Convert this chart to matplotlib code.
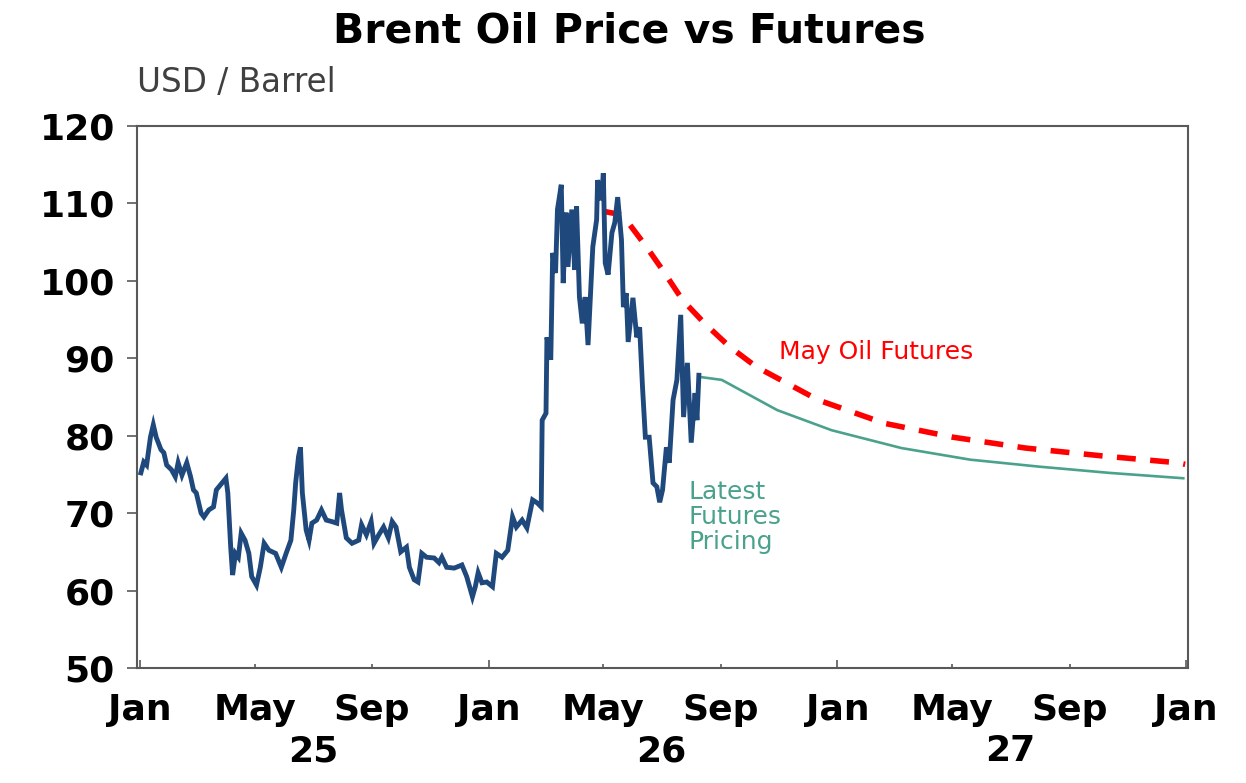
import matplotlib
matplotlib.use('Agg')
import matplotlib.pyplot as plt
import matplotlib.dates as mdates
import pandas as pd

# ---------------- data ----------------
brent_dates = [
    '2025-01-02', '2025-01-05', '2025-01-08', '2025-01-12', '2025-01-15', '2025-01-18', '2025-01-23',
    '2025-01-26', '2025-01-29', '2025-02-03', '2025-02-07', '2025-02-10', '2025-02-14', '2025-02-19',
    '2025-02-23', '2025-02-26', '2025-03-01', '2025-03-06', '2025-03-09', '2025-03-14', '2025-03-19',
    '2025-03-22', '2025-03-26', '2025-04-01', '2025-04-03', '2025-04-06', '2025-04-08', '2025-04-11',
    '2025-04-14', '2025-04-17', '2025-04-21', '2025-04-25', '2025-04-28', '2025-05-03', '2025-05-07',
    '2025-05-11', '2025-05-16', '2025-05-23', '2025-05-29', '2025-06-03', '2025-06-08', '2025-06-11',
    '2025-06-13', '2025-06-16', '2025-06-18', '2025-06-20', '2025-06-24', '2025-06-27', '2025-06-30',
    '2025-07-05', '2025-07-10', '2025-07-15', '2025-07-21', '2025-07-26', '2025-07-29', '2025-07-31',
    '2025-08-05', '2025-08-11', '2025-08-18', '2025-08-21', '2025-08-26', '2025-08-31', '2025-09-03',
    '2025-09-08', '2025-09-13', '2025-09-18', '2025-09-22', '2025-09-26', '2025-10-01', '2025-10-07',
    '2025-10-10', '2025-10-15', '2025-10-19', '2025-10-23', '2025-10-28', '2025-11-05', '2025-11-10',
    '2025-11-13', '2025-11-18', '2025-11-26', '2025-12-04', '2025-12-09', '2025-12-15', '2025-12-18',
    '2025-12-21', '2025-12-25', '2025-12-30',
    '2026-01-05', '2026-01-09', '2026-01-15', '2026-01-21', '2026-01-26', '2026-01-30', '2026-02-05',
    '2026-02-10', '2026-02-16', '2026-02-21', '2026-02-25', '2026-02-26', '2026-03-02', '2026-03-03',
    '2026-03-07', '2026-03-09', '2026-03-12', '2026-03-14', '2026-03-18', '2026-03-20', '2026-03-23',
    '2026-03-25', '2026-03-29', '2026-04-01', '2026-04-03', '2026-04-06', '2026-04-09', '2026-04-12',
    '2026-04-15', '2026-04-20', '2026-04-24', '2026-04-25', '2026-04-29', '2026-05-01', '2026-05-03',
    '2026-05-06', '2026-05-10', '2026-05-13', '2026-05-16', '2026-05-20', '2026-05-22', '2026-05-25',
    '2026-05-27', '2026-06-01', '2026-06-05', '2026-06-08', '2026-06-11', '2026-06-14', '2026-06-18',
    '2026-06-22', '2026-06-26', '2026-06-29', '2026-07-02', '2026-07-06', '2026-07-09', '2026-07-13',
    '2026-07-17', '2026-07-21', '2026-07-24', '2026-07-28', '2026-08-01', '2026-08-05', '2026-08-07',
    '2026-08-09',
]
brent_values = [
    75.2, 76.6, 76.2, 79.8, 81.4, 79.8, 78.2,
    77.8, 76.2, 75.6, 74.7, 76.5, 74.9, 76.5,
    74.7, 73.0, 72.6, 70.0, 69.5, 70.4, 70.8,
    73.0, 73.6, 74.5, 72.6, 65.6, 62.0, 64.8,
    64.3, 67.4, 66.5, 64.8, 61.8, 60.7, 63.0,
    66.1, 65.2, 64.8, 63.0, 64.8, 66.5, 70.4,
    73.9, 77.3, 78.5, 72.6, 67.8, 66.5, 68.7,
    69.1, 70.4, 69.1, 68.9, 68.7, 72.6, 70.4,
    66.8, 66.1, 66.5, 68.5, 67.2, 68.9, 66.1,
    67.2, 68.2, 66.8, 68.9, 68.2, 65.0, 65.6,
    63.0, 61.4, 61.1, 64.8, 64.3, 64.2, 63.6,
    64.3, 63.0, 62.9, 63.3, 61.8, 59.2, 60.5,
    62.3, 61.0, 61.1,
    60.5, 64.8, 64.3, 65.2, 69.5, 68.2, 69.1,
    68.1, 71.7, 71.3, 70.8, 82.0, 82.9, 92.7,
    89.8, 103.6, 101.0, 109.2, 112.4, 99.7, 108.8,
    101.8, 109.2, 101.4, 109.6, 97.9, 94.5, 97.9,
    91.7, 104.4, 107.9, 113.0, 110.4, 113.9, 102.3,
    100.8, 106.2, 107.5, 110.8, 105.3, 96.6, 98.4,
    92.1, 97.8, 92.7, 94.0, 86.3, 79.8, 79.8,
    73.9, 73.4, 71.4, 73.0, 78.5, 76.5, 84.6,
    87.2, 95.6, 82.4, 89.4, 79.1, 85.5, 82.0,
    87.8,
]

latest_dates = ['2026-08-09', '2026-09-02', '2026-10-30', '2026-12-26', '2027-03-09',
                '2027-05-20', '2027-07-31', '2027-10-12', '2027-12-29']
latest_values = [87.6, 87.2, 83.3, 80.7, 78.4, 76.9, 76.0, 75.2, 74.5]

may_dates = ['2026-04-30', '2026-05-21', '2026-06-15', '2026-07-02', '2026-07-23',
             '2026-08-15', '2026-09-10', '2026-10-08', '2026-12-12', '2027-02-19',
             '2027-05-02', '2027-07-17', '2027-10-04', '2027-12-23', '2027-12-31']
may_values = [109.0, 108.5, 104.4, 101.4, 97.5,
              94.5, 91.5, 88.9, 84.6, 81.6,
              79.8, 78.4, 77.4, 76.5, 76.3]

year_labels = ['25', '26', '27']
year_label_dates = ['2025-07-01', '2026-07-01', '2027-07-01']

title = 'Brent Oil Price vs Futures'
unit_label = 'USD / Barrel'
may_label = 'May Oil Futures'
latest_label = 'Latest\nFutures\nPricing'

# ---------------- styles ----------------
BLUE = '#1F497D'
RED = '#FF0000'
TEAL = '#4BA28C'
SPINE = '#595959'

plt.rcParams['font.family'] = ['DejaVu Sans']

fig = plt.figure(figsize=(12.46, 7.83), dpi=100)
ax = fig.add_axes([0.1100, 0.1469, 0.8435, 0.6923])

ax.plot(pd.to_datetime(may_dates), may_values, color=RED, lw=4.0,
        dashes=(3.4, 2.6), dash_capstyle='butt', zorder=2)
ax.plot(pd.to_datetime(latest_dates), latest_values, color=TEAL, lw=1.9, zorder=3)
ax.plot(pd.to_datetime(brent_dates), brent_values, color=BLUE, lw=3.5, zorder=4,
        solid_joinstyle='miter')

ax.set_xlim(pd.Timestamp('2024-12-29'), pd.Timestamp('2028-01-03'))
ax.set_ylim(50, 120)
ax.set_yticks(range(50, 121, 10))

ax.xaxis.set_major_locator(mdates.MonthLocator(bymonth=[1]))
ax.xaxis.set_minor_locator(mdates.MonthLocator(bymonth=[5, 9]))
ax.xaxis.set_major_formatter(mdates.DateFormatter('%b'))
ax.xaxis.set_minor_formatter(mdates.DateFormatter('%b'))

ax.tick_params(axis='x', which='major', direction='in', length=6, width=1.2,
               color=SPINE, pad=18, labelsize=26)
ax.tick_params(axis='x', which='minor', direction='in', length=3, width=1.2,
               color=SPINE, pad=18, labelsize=26)
ax.tick_params(axis='y', which='major', direction='out', length=7, width=1.2,
               color=SPINE, pad=9, labelsize=26)
for lab in ax.get_xticklabels(which='both') + ax.get_yticklabels():
    lab.set_fontweight('bold')

for sp in ax.spines.values():
    sp.set_color(SPINE)
    sp.set_linewidth(1.5)

# year labels under month labels
for d, lab in zip(year_label_dates, year_labels):
    ax.text(pd.Timestamp(d), -0.154, lab, transform=ax.get_xaxis_transform(),
            ha='center', va='center', fontsize=26, fontweight='bold')

ax.text(pd.Timestamp('2026-11-01'), 90.8, may_label, color=RED, fontsize=18,
        ha='left', va='center')
ax.text(pd.Timestamp('2026-07-29'), 69.5, latest_label, color=TEAL, fontsize=18,
        ha='left', va='center', linespacing=1.05)

fig.text(0.505, 0.960, title, ha='center', va='center', fontsize=29.5, fontweight='bold')
fig.text(0.110, 0.894, unit_label, ha='left', va='center', fontsize=23.5, color='#404040')

fig.savefig('out.png', dpi=100)
